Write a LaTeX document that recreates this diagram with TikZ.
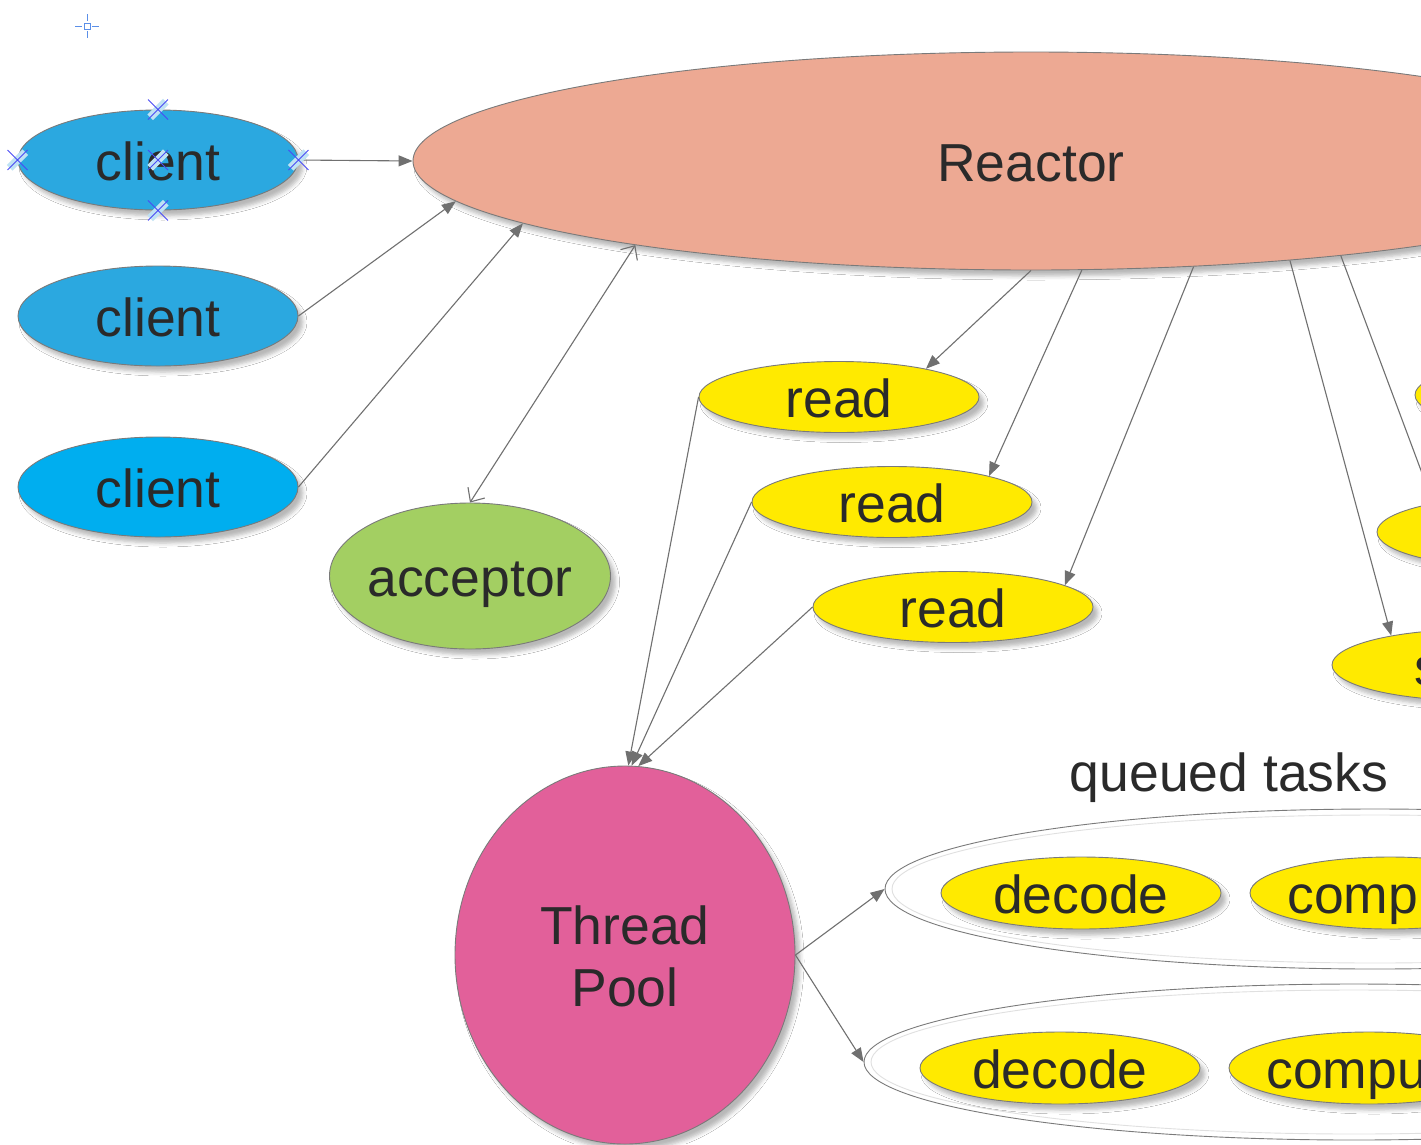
\documentclass[tikz,border=0pt]{standalone}
\usepackage{fontspec}
\setmainfont{Liberation Sans}
\usetikzlibrary{arrows.meta,shapes.geometric,shadows.blur}

\definecolor{linegray}{HTML}{707070}
\definecolor{edgegray}{HTML}{7A7A7A}
\definecolor{ringgray}{HTML}{E0E0E0}
\definecolor{clientblue}{HTML}{2BA8E0}
\definecolor{clientcyan}{HTML}{00AEEF}
\definecolor{reactorsalmon}{HTML}{EDA993}
\definecolor{acceptorgreen}{HTML}{A3CF62}
\definecolor{poolpink}{HTML}{E2609A}
\definecolor{taskyellow}{HTML}{FFEA00}
\definecolor{labeltext}{HTML}{2A2A2A}
\definecolor{handleblue}{HTML}{4A4AF5}
\definecolor{handlelight}{HTML}{BFE2F4}
\definecolor{markblue}{HTML}{5B8FE8}

\begin{document}
\begin{tikzpicture}[x=1pt,y=-1pt,
  bigfont/.style={font=\fontsize{53.5}{62}\selectfont, text=labeltext},
  bubble/.style={ellipse, draw=edgegray, line width=0.9pt,
    inner xsep=-60pt, inner ysep=0pt, text height=40pt, text depth=0pt,
    bigfont,
    blur shadow={shadow xshift=5pt, shadow yshift=-6pt,
      shadow blur radius=4pt, shadow opacity=28}},
  clientnode/.style={bubble, fill=clientblue,
    minimum width=280pt, minimum height=100pt},
  tasknode/.style={bubble, fill=taskyellow,
    minimum width=280pt, minimum height=71pt},
  queuering/.style={ellipse, draw=edgegray, fill=white, line width=0.9pt,
    inner sep=0pt, minimum width=980pt},
  innerring/.style={draw=ringgray, line width=0.9pt},
  link/.style={draw=linegray, line width=1.1pt,
    -{Triangle[length=14pt,width=11pt]}},
  twoway/.style={draw=linegray, line width=1.1pt,
    {Straight Barb[length=11pt,width=20pt,line width=1.1pt]}-{Straight Barb[length=11pt,width=20pt,line width=1.1pt]}},
  handle/.pic={
    \fill[handlelight, rotate=-45] (-4pt,-11pt) rectangle (4pt,11pt);
    \draw[handleblue, line width=0.9pt] (-10pt,-10pt) -- (10pt,10pt)
      (-10pt,10pt) -- (10pt,-10pt);
  }]

\useasboundingbox (0,0) rectangle (1421,1144);
\clip (0,0) rectangle (1421,1144);
\fill[white] (0,0) rectangle (1421,1144);

% editor placement marker
\draw[markblue, line width=0.9pt] (84,23) rectangle (90,29)
  (75,26) -- (82,26) (92,26) -- (99,26)
  (87,14) -- (87,21) (87,31) -- (87,38);

% main actors
\node[bubble, fill=reactorsalmon, minimum width=1236pt, minimum height=218pt]
  (reactor) at (1031,161) {Reactor};
\node[clientnode] (client1) at (158,160) {client};
\node[clientnode] (client2) at (158,316) {client};
\node[clientnode, fill=clientcyan] (client3) at (158,487) {client};
\node[bubble, fill=acceptorgreen, minimum width=281pt, minimum height=146pt]
  (acceptor) at (470,576) {acceptor};
\node[bubble, fill=poolpink, minimum width=340pt, minimum height=378pt,
  align=center, text height=102pt, text depth=0pt]
  (pool) at (625,955) {Thread\\Pool};

% I/O events dispatched by the reactor
\node[tasknode] (read1) at (839,397) {read};
\node[tasknode] (read2) at (892,502) {read};
\node[tasknode] (read3) at (953,607) {read};
\node[tasknode] (sendA) at (1555,395) {};
\node[tasknode] (sendB) at (1517,532) {};
\node[tasknode] (sendC) at (1472,665) {send};

% task queues of the pool
\node[bigfont, anchor=base] (queuelabel) at (1229,791) {queued tasks};
\node[queuering, minimum height=160pt] (queue1) at (1375,889) {};
\draw[innerring] (queue1.center) ellipse [x radius=483pt, y radius=74pt];
\node[queuering, minimum height=156pt] (queue2) at (1354,1062) {};
\draw[innerring] (queue2.center) ellipse [x radius=483pt, y radius=72pt];
\node[tasknode, minimum height=72pt] (decode1) at (1081,893) {decode};
\node[tasknode, minimum height=72pt] (compute1) at (1390,893) {compute};
\node[tasknode, minimum height=72pt] (decode2) at (1060,1068) {decode};
\node[tasknode, minimum height=72pt] (compute2) at (1369,1068) {compute};

% connections
\draw[link] (client1.east) -- (reactor.west);
\draw[link] (client2.east) -- (reactor.184);
\draw[link] (client3.east) -- (reactor.187);
\draw[twoway] (acceptor.north) -- (reactor.192);

\draw[link] (reactor.-90) -- (read1.18);
\draw[link] (reactor.-65.4) -- (read2.15);
\draw[link] (reactor.-33.2) -- (read3.11);
\draw[link] (reactor.-17.2) -- (sendB.161);
\draw[link] (reactor.-21) -- (sendC.160);

\draw[link] (read1.west) -- (pool.89);
\draw[link] (read2.west) -- (pool.88);
\draw[link] (read3.west) -- (pool.86);

\draw[link] (pool.east) -- (queue1.west);
\draw[link] (pool.east) -- (queue2.west);

% selection handles on the first client
\pic at (client1.north) {handle};
\pic at (client1.west) {handle};
\pic at (client1.east) {handle};
\pic at (client1.center) {handle};
\pic at (client1.south) {handle};
\end{tikzpicture}
\end{document}
